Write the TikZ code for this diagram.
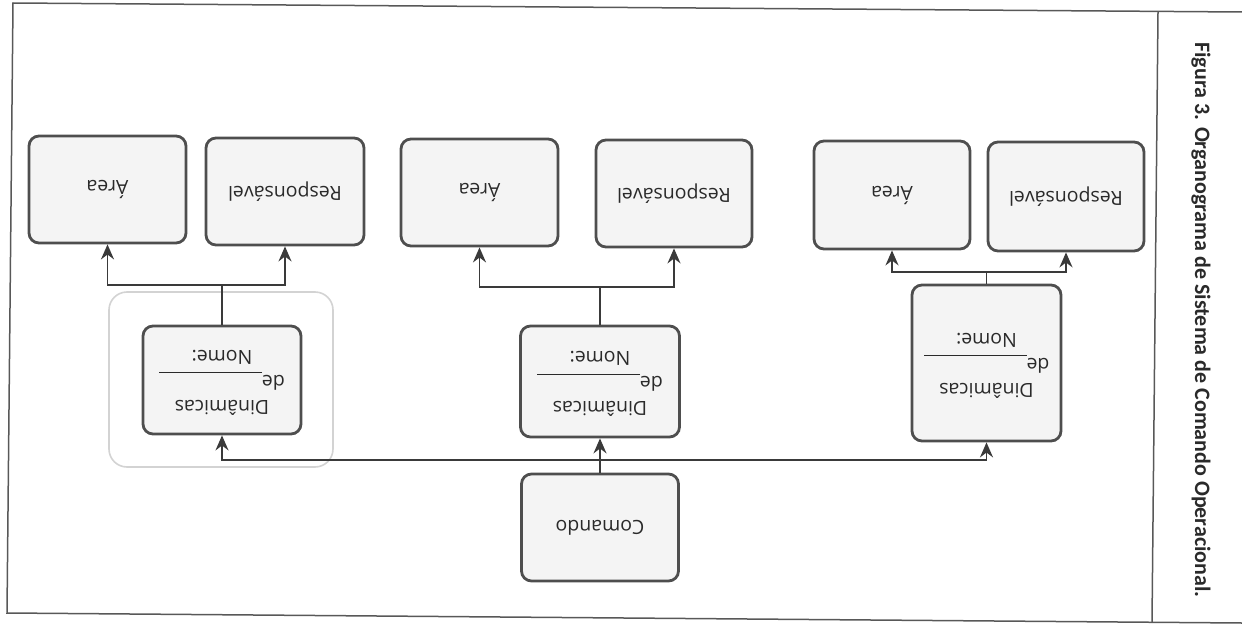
\documentclass[tikz,border=0pt]{standalone}
\usepackage{fontspec}
\setmainfont{Open Sans}
\newfontfamily\capfont{Carlito}
\usetikzlibrary{arrows.meta}
\definecolor{linegray}{HTML}{3A3A3A}
\definecolor{boxgray}{HTML}{4E4E4E}
\definecolor{boxfill}{HTML}{F4F4F4}
\definecolor{txtgray}{HTML}{2A2A2A}
\definecolor{halo}{HTML}{D3D3D3}
\tikzset{
  box/.style={draw=boxgray, fill=boxfill, line width=2.8pt, rounded corners=10pt,
    inner sep=0pt, text=txtgray, font=\fontsize{19.5}{25}\selectfont},
  conn/.style={draw=linegray, line width=1.6pt},
  arr/.style={conn, -{Stealth[length=15pt,width=13pt]}},
  frameline/.style={draw=linegray!85, line width=1.5pt}
}
\newcommand{\upside}[1]{\rotatebox{180}{#1}}
\newcommand{\dintext}{\upside{\begin{tabular}{@{}c@{}}Dinâmicas\\de\rule[-3pt]{103pt}{1.2pt}\\Nome:\end{tabular}}}
\begin{document}
\begin{tikzpicture}[x=1pt,y=-1pt]
\useasboundingbox (0,0) rectangle (1242,626);
% outer frame
\draw[frameline] (1242,12) -- (13,3) -- (7,613) -- (1242,623);
\draw[frameline] (1158,12) -- (1152,622);
% caption
\node[rotate=-90, font=\capfont\bfseries\fontsize{22}{24}\selectfont, text=txtgray] (cap) at (1201,320)
  {Figura 3. Organograma de Sistema de Comando Operacional.};
% halo around first group
\draw[halo, line width=1.6pt, rounded corners=18pt] (109,292) rectangle (333,467);
% boxes
\node[box, minimum width=157pt, minimum height=107pt] (a1) at (107.5,189.5) {\upside{Área}};
\node[box, minimum width=158pt, minimum height=107pt] (r1) at (285,191.5) {\upside{Responsável}};
\node[box, minimum width=157pt, minimum height=107pt] (a2) at (479.5,192.5) {\upside{Área}};
\node[box, minimum width=156pt, minimum height=107pt] (r2) at (674,193.5) {\upside{Responsável}};
\node[box, minimum width=156pt, minimum height=108pt] (a3) at (892,195) {\upside{Área}};
\node[box, minimum width=156pt, minimum height=109pt] (r3) at (1066,196.5) {\upside{Responsável}};
\node[box, minimum width=158pt, minimum height=108pt] (d1) at (222,380) {\dintext};
\node[box, minimum width=159pt, minimum height=111pt] (d2) at (600,381.5) {\dintext};
\node[box, minimum width=149pt, minimum height=156pt] (d3) at (986.5,363) {\dintext};
\node[box, minimum width=157pt, minimum height=107pt] (c) at (600,527.5) {\upside{Comando}};
% connectors from Comando
\coordinate (hub) at (600,460);
\draw[conn] (c.north) -- (hub);
\draw[arr] (hub) -- (d2.south);
\draw[arr] (hub) -| (d1.south);
\draw[arr] (hub) -| (d3.south);
% branches
\coordinate (j1) at (222,285);
\coordinate (j2) at (600,287);
\coordinate (j3) at (986.5,272);
\draw[conn] (d1.north) -- (j1);
\draw[arr] (j1) -| (a1.south);
\draw[arr] (j1) -| (r1.south);
\draw[conn] (d2.north) -- (j2);
\draw[arr] (j2) -| (a2.south);
\draw[arr] (j2) -| (r2.south);
\draw[conn] (d3.north) -- (j3);
\draw[arr] (j3) -| (a3.south);
\draw[arr] (j3) -| (r3.south);
\end{tikzpicture}
\end{document}
